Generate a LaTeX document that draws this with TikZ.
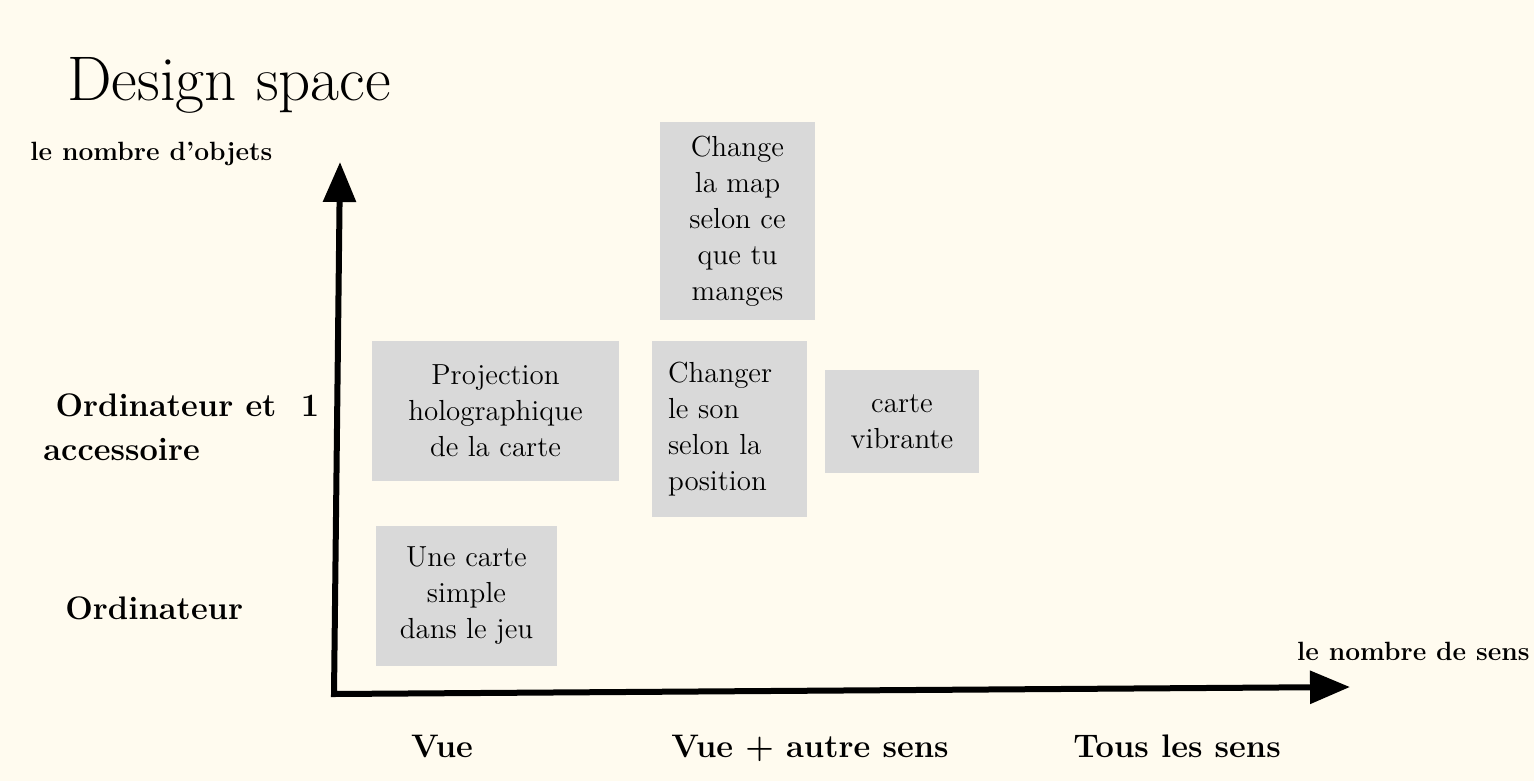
\documentclass[tikz,border=0pt]{standalone}
\usepackage{fontspec}
\usetikzlibrary{arrows.meta}
\definecolor{bg}{HTML}{FFFBEF}
\definecolor{boxgray}{HTML}{D9D9D9}
\tikzset{
  idea/.style={fill=boxgray, inner sep=0pt, font=\fontsize{14.5}{18}\selectfont},
  axislabel/.style={font=\bfseries\fontsize{16.3}{22}\selectfont, inner sep=0pt},
  smalllabel/.style={font=\bfseries\fontsize{13.2}{16}\selectfont, inner sep=0pt},
  axis/.style={line width=3pt, {Triangle[length=20pt,width=16pt]}-{Triangle[length=20pt,width=16pt]}},
}
\begin{document}
\begin{tikzpicture}[x=0.5pt,y=-0.5pt]
\fill[bg] (0,0) rectangle (1534,781);
\useasboundingbox (0,0) rectangle (1534,781);
% title
\node[anchor=base west, inner sep=0pt, font=\fontsize{31.5}{36}\selectfont] (title) at (67,100) {Design space};
% axes
\coordinate (ytip) at (340,162);
\coordinate (origin) at (334,694);
\coordinate (xtip) at (1350,687);
\draw[axis] (ytip) -- (origin) -- (xtip);
% axis titles
\node[smalllabel, anchor=base west] (ytitle) at (30,160) {le nombre d’objets};
\node[smalllabel, anchor=base east] (xtitle) at (1530,660) {le nombre de sens};
% y labels
\node[axislabel, anchor=north west, align=left] (lab1) at (43,393) {\ Ordinateur et\ \ 1\\accessoire};
\node[axislabel, anchor=base west] (lab0) at (65,619) {Ordinateur};
% x labels
\node[axislabel, anchor=base] (xv) at (442,757) {Vue};
\node[axislabel, anchor=base] (xva) at (810,757) {Vue + autre sens};
\node[axislabel, anchor=base] (xall) at (1177,757) {Tous les sens};
% boxes
\node[idea, minimum width=77.5pt, minimum height=99pt, align=center] (b1) at (737.5,221) {Change\\la map\\selon ce\\que tu\\manges};
\node[idea, minimum width=123.5pt, minimum height=70pt, align=center] (b2) at (495.5,411) {Projection\\holographique\\de la carte};
\node[idea, minimum width=77.5pt, minimum height=88pt, align=left, text width=61.5pt] (b3) at (729.5,429) {Changer\\le son\\selon la\\position};
\node[idea, minimum width=77pt, minimum height=51.5pt, align=center] (b4) at (902,421.5) {carte\\vibrante};
\node[idea, minimum width=90.5pt, minimum height=70pt, align=center] (b5) at (466.5,596) {Une carte\\simple\\dans le jeu};
\end{tikzpicture}
\end{document}
